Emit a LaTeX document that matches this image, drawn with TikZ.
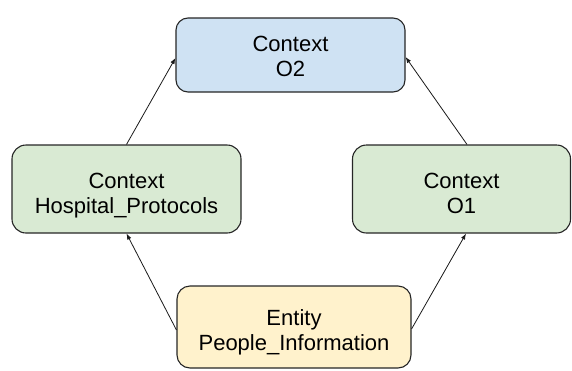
\documentclass[tikz,border=0pt]{standalone}
\usepackage{fontspec}
\setmainfont{Liberation Sans}
\usetikzlibrary{arrows.meta}
\definecolor{bluefill}{HTML}{CFE2F3}
\definecolor{greenfill}{HTML}{D9EAD3}
\definecolor{yellowfill}{HTML}{FFF2CC}
\begin{document}
\begin{tikzpicture}[x=1pt,y=-1pt,
  box/.style={draw=black!85, line width=1.1pt, inner sep=0pt},
  lbl/.style={align=center, font=\fontsize{22}{25}\selectfont, inner sep=0pt},
  conn/.style={-{Latex[length=6pt,width=4.5pt]}, line width=0.8pt, black!90}]
\useasboundingbox (0,0) rectangle (572,370);
\node[box, fill=bluefill, rounded corners=12pt, minimum width=229pt, minimum height=74pt] (o2) at (290.5,55) {};
\node[box, fill=greenfill, rounded corners=14pt, minimum width=229pt, minimum height=88pt] (hp) at (126.5,189) {};
\node[box, fill=greenfill, rounded corners=14pt, minimum width=218pt, minimum height=88pt] (o1) at (461.5,189) {};
\node[box, fill=yellowfill, rounded corners=13pt, minimum width=234pt, minimum height=82pt] (pi) at (294,327) {};
\node[lbl] (o2t) at ([yshift=-1pt]o2.center) {Context\\O2};
\node[lbl] (hpt) at ([yshift=-6.5pt]hp.center) {Context\\Hospital\_Protocols};
\node[lbl] (o1t) at ([yshift=-4pt]o1.center) {Context\\O1};
\node[lbl] (pit) at ([yshift=-5pt]pi.center) {Entity\\People\_Information};
\draw[conn] ([yshift=-3pt]pi.west) -- (hp.south);
\draw[conn] ([yshift=-2pt]pi.east) -- ([xshift=4.5pt]o1.south);
\draw[conn] (hp.north) -- ([yshift=-3pt]o2.west);
\draw[conn] ([xshift=5.5pt]o1.north) -- ([yshift=-2pt]o2.east);
\end{tikzpicture}
\end{document}
